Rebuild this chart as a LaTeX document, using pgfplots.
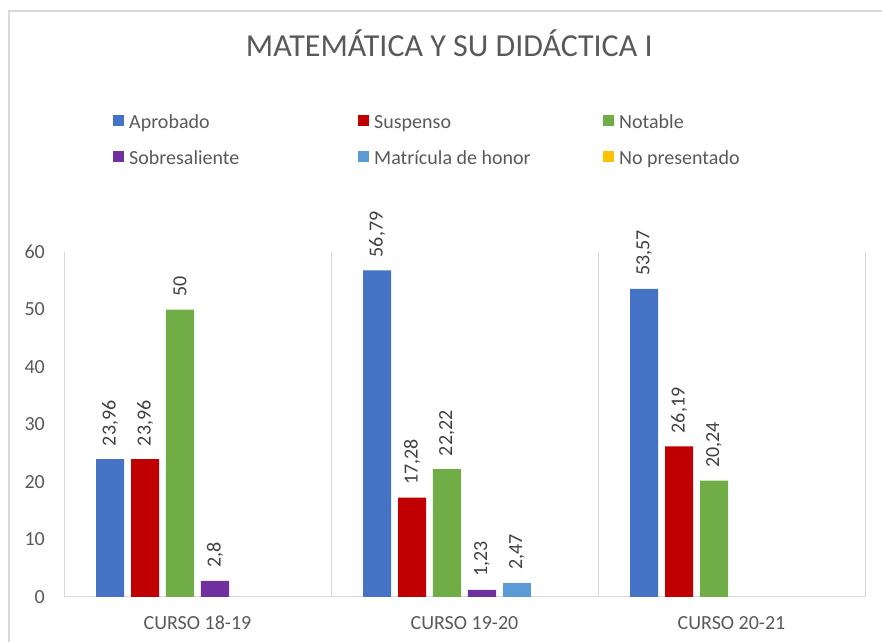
\documentclass[border=0pt]{standalone}
\usepackage{pgfplots}
\pgfplotsset{compat=1.18}
\usepackage{fontspec}
\setmainfont{Carlito}
\definecolor{cA}{HTML}{4472C4}
\definecolor{cS}{HTML}{C00000}
\definecolor{cN}{HTML}{70AD47}
\definecolor{cSb}{HTML}{7030A0}
\definecolor{cM}{HTML}{5B9BD5}
\definecolor{cP}{HTML}{FFC000}
\definecolor{txt}{HTML}{595959}
\definecolor{lbl}{HTML}{404040}
\definecolor{grd}{HTML}{D9D9D9}
\newcommand{\lf}{\fontsize{20bp}{24bp}\selectfont}
\newcommand{\legtxt}[1]{\makebox[234bp][l]{\hspace{5bp}\strut #1}}
\begin{document}
\begin{tikzpicture}
\useasboundingbox (0,0) rectangle (882bp,642bp);
\clip (0,0) rectangle (882bp,642bp);
\draw[grd, line width=1.5bp] (9bp,-20bp) -- (9bp,631bp) -- (900bp,631bp);
\begin{axis}[
  at={(64bp,45bp)}, anchor=south west,
  scale only axis, width=801bp, height=345bp,
  ybar,
  xmin=-0.5, xmax=2.5, ymin=0, ymax=60, enlargelimits=false,
  xtick={0,1,2}, xticklabels={CURSO 18-19, CURSO 19-20, CURSO 20-21},
  minor xtick={-0.5,0.5,1.5,2.5},
  xminorgrids, minor grid style={draw=grd, line width=1bp},
  ytick={0,10,...,60},
  major tick length=0pt, minor tick length=0pt,
  axis x line*=bottom, axis y line*=left,
  axis line style={draw=grd, line width=1bp, -},
  /pgf/number format/assume math mode=true,
  /pgf/number format/use comma,
  tick label style={font=\lf, text=txt, inner sep=0pt},
  yticklabel style={anchor=east, xshift=-19bp},
  xticklabel style={anchor=base, yshift=-33bp},
  title={MATEMÁTICA Y SU DIDÁCTICA I},
  title style={at={(0.481,1.548)}, anchor=base, font=\fontsize{32bp}{38bp}\selectfont, text=txt, inner sep=0pt},
  legend columns=3,
  legend style={draw=none, fill=none, inner sep=0pt, at={(0.0612,1.408)}, anchor=north west,
    font=\lf, text=txt, nodes={inner sep=0pt, anchor=west},
    /tikz/every even column/.append style={column sep=0bp},
    row sep=18bp},
  legend image code/.code={\fill[#1] (0bp,-5.5bp) rectangle (11bp,5.5bp);},
  nodes near coords,
  every node near coord/.append style={rotate=90, anchor=west, inner xsep=13bp, inner ysep=0pt, font=\lf, text=lbl},
  bar width=0.105,
]
\addplot[bar shift=-0.3275, fill=cA, draw=none] coordinates {(0,23.96) (1,56.79) (2,53.57)};
\addlegendentry{\legtxt{Aprobado}}
\addplot[bar shift=-0.1965, fill=cS, draw=none] coordinates {(0,23.96) (1,17.28) (2,26.19)};
\addlegendentry{\legtxt{Suspenso}}
\addplot[bar shift=-0.0655, fill=cN, draw=none] coordinates {(0,50) (1,22.22) (2,20.24)};
\addlegendentry{\legtxt{Notable}}
\addplot[bar shift=0.0655, fill=cSb, draw=none] coordinates {(0,2.8) (1,1.23)};
\addlegendentry{\legtxt{Sobresaliente}}
\addplot[bar shift=0.1965, fill=cM, draw=none] coordinates {(1,2.47)};
\addlegendentry{\legtxt{Matrícula de honor}}
\addlegendimage{fill=cP, draw=none}
\addlegendentry{\legtxt{No presentado}}
\end{axis}
\end{tikzpicture}
\end{document}
